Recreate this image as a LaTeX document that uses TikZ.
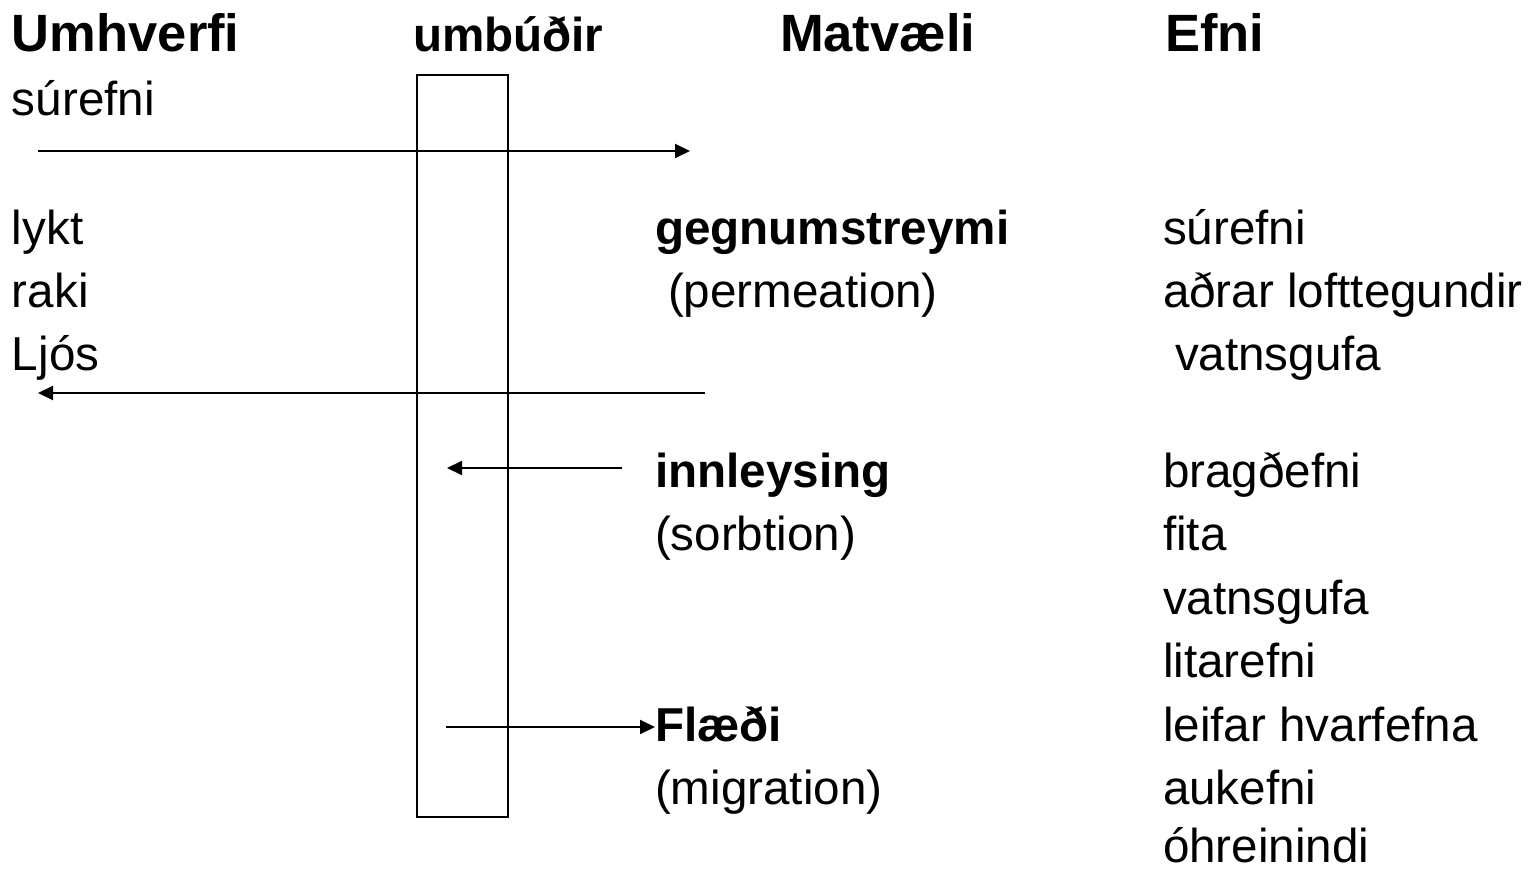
\documentclass[tikz,border=0pt]{standalone}
\usepackage{fontspec}
\setmainfont{Liberation Sans}
\usetikzlibrary{arrows.meta}
\tikzset{
  txt/.style={anchor=base west, inner sep=0pt, outer sep=0pt, font=\fontsize{47.6}{57}\selectfont},
  btxt/.style={txt, font=\fontsize{47.6}{57}\selectfont\bfseries},
  head/.style={txt, font=\fontsize{52.5}{63}\selectfont\bfseries},
  flow/.style={line width=2pt, -{Triangle[length=15pt,width=14pt]}},
  wall/.style={draw, line width=2pt, inner sep=0pt, minimum width=91pt, minimum height=742pt}
}
\begin{document}
\begin{tikzpicture}[x=1pt,y=-1pt]
\useasboundingbox (0,0) rectangle (1532,869);
% headings
\node[head] (hU) at (12,52) {Umhverfi};
\node[btxt] (hP) at (413,52) {umbúðir};
\node[head] (hM) at (780,52) {Matvæli};
\node[head] (hE) at (1165,52) {Efni};
% packaging wall
\node[wall] (box) at (462.5,446) {};
% left column
\node[txt] (l1) at (12,116) {súrefni};
\node[txt] (l2) at (12,244) {lykt};
\node[txt] (l3) at (12,307) {raki};
\node[txt] (l4) at (12,370) {Ljós};
% middle column
\node[btxt] (m1) at (655,244) {gegnumstreymi};
\node[txt] (m2) at (668,307) {(permeation)};
\node[btxt] (m3) at (655,487) {innleysing};
\node[txt] (m4) at (655,550) {(sorbtion)};
\node[btxt] (m5) at (655,741) {Flæði};
\node[txt] (m6) at (655,804) {(migration)};
% right column
\node[txt] (r1) at (1163,244) {súrefni};
\node[txt] (r2) at (1163,307) {aðrar lofttegundir};
\node[txt] (r3) at (1175,370) {vatnsgufa};
\node[txt] (r4) at (1163,487) {bragðefni};
\node[txt] (r5) at (1163,550) {fita};
\node[txt] (r6) at (1163,614) {vatnsgufa};
\node[txt] (r7) at (1163,677) {litarefni};
\node[txt] (r8) at (1163,741) {leifar hvarfefna};
\node[txt] (r9) at (1163,804) {aukefni};
\node[txt, text depth=0pt] (r10) at (1163,862) {óhreinindi};
% arrow end points
\coordinate (a1s) at (38,151);
\coordinate (a1e) at (690,151);
\coordinate (a2s) at (705,393);
\coordinate (a2e) at (38,393);
\coordinate (a3s) at (622,468);
\coordinate (a3e) at (447,468);
\coordinate (a4s) at (446,727);
\draw[flow] (a1s) -- (a1e);
\draw[flow] (a2s) -- (a2e);
\draw[flow] (a3s) -- (a3e);
\draw[flow] (a4s) -- (m5.west |- a4s);
\end{tikzpicture}
\end{document}
